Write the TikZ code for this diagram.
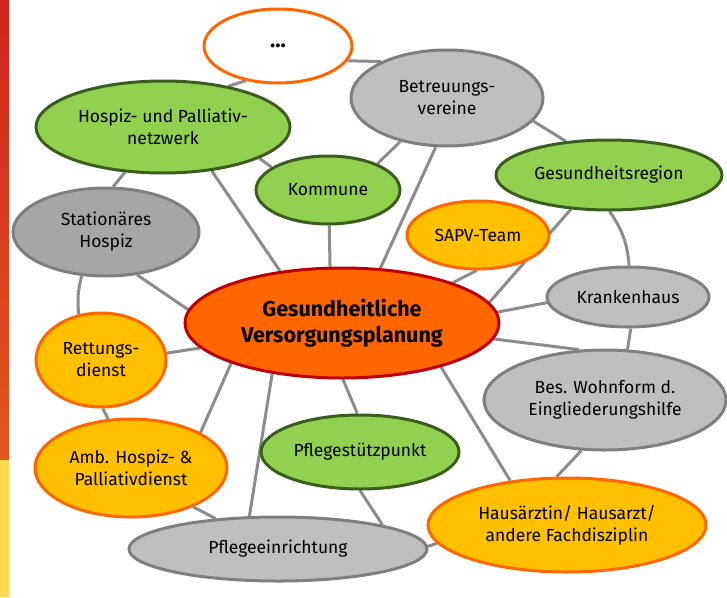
\documentclass[tikz,border=0pt]{standalone}
\usepackage{fontspec}
\setmainfont{Fira Sans}
\usetikzlibrary{shapes.geometric,backgrounds}
\definecolor{cgreen}{HTML}{92D050}
\definecolor{cgreendk}{HTML}{3B5E1F}
\definecolor{clgrey}{HTML}{BFBFBF}
\definecolor{cdgrey}{HTML}{A6A6A6}
\definecolor{cgreyline}{HTML}{7F7F7F}
\definecolor{cyellow}{HTML}{FFC000}
\definecolor{corange}{HTML}{FF6600}
\definecolor{cdred}{HTML}{C00000}
\definecolor{cconn}{HTML}{8C8C8C}
\definecolor{stripA}{HTML}{CE261D}
\definecolor{stripB}{HTML}{E2561F}
\definecolor{stripC}{HTML}{FDD94F}
\tikzset{
  base/.style={ellipse, line width=3pt, inner sep=0pt, align=center,
    font=\fontsize{17.5}{22}\selectfont},
  gnode/.style={base, fill=cgreen, draw=cgreendk},
  lgnode/.style={base, fill=clgrey, draw=cgreyline},
  dgnode/.style={base, fill=cdgrey, draw=cgreyline},
  ynode/.style={base, fill=cyellow, draw=corange},
  wnode/.style={base, fill=white, draw=corange},
  cnode/.style={base, fill=corange, draw=cdred,
    font=\fontsize{21.5}{26}\selectfont\bfseries},
  conn/.style={draw=cconn, line width=3pt},
  sz/.style 2 args={minimum width=#1pt, minimum height=#2pt},
}
\begin{document}
\begin{tikzpicture}[x=1pt,y=-1pt]
\useasboundingbox (0,0) rectangle (727,597);
\shade[top color=stripA, bottom color=stripB] (0,0) rectangle (9,460);
\fill[stripC] (0,460) rectangle (9,597);

\node[wnode, sz={148}{74}, font=\fontsize{22}{26}\selectfont\bfseries] (dots) at (278,46) {...};
\node[lgnode, sz={192}{96}] (betr) at (447,98) {Betreuungs-\\vereine};
\node[gnode, sz={254}{92}] (hpn) at (163,127) {Hospiz- und Palliativ-\\netzwerk};
\node[gnode, sz={144}{68}] (komm) at (328,190) {Kommune};
\node[dgnode, sz={186}{88}] (stat) at (106,232) {Stationäres\\Hospiz};
\node[gnode, sz={226}{70}] (gesr) at (609,175) {Gesundheitsregion};
\node[ynode, sz={142}{68}] (sapv) at (478,235) {SAPV-Team};
\node[lgnode, sz={162}{60}] (kran) at (628,297) {Krankenhaus};
\node[lgnode, sz={242}{100}] (bes) at (605,400) {Bes. Wohnform d.\\Eingliederungshilfe};
\node[cnode, sz={314}{110}] (cent) at (342,323) {Gesundheitliche\\Versorgungsplanung};
\node[ynode, sz={130}{94}] (rett) at (101,360) {Rettungs-\\dienst};
\node[ynode, sz={192}{98}] (amb) at (131,468) {Amb. Hospiz- \&\\Palliativdienst};
\node[gnode, sz={198}{74}] (pfls) at (360,452) {Pflegestützpunkt};
\node[lgnode, sz={298}{64}] (pfle) at (278,549) {Pflegeeinrichtung};
\node[ynode, sz={278}{94}] (haus) at (567,525) {Hausärztin/ Hausarzt/\\andere Fachdisziplin};

\begin{pgfonlayer}{background}
\draw[conn] (dots.227) -- (hpn.32);
\draw[conn] (dots.348) -- (betr.151);
\draw[conn] (betr.223) -- (komm.28);
\draw[conn] (betr.257) -- (cent.55);
\draw[conn] (betr.345) -- (gesr.142);
\draw[conn] (hpn.342) -- (komm.158);
\draw[conn] (hpn.318) -- (cent.140);
\draw[conn] (hpn.230) -- (stat.81);
\draw[conn] (stat.306) -- (cent.175);
\draw[conn] (stat.241) to[bend right=10] (rett.116);
\draw[conn] (rett.6) -- (cent.190);
\draw[conn] (rett.272) -- (amb.115);
\draw[conn] (cent.200) -- (amb.27);
\draw[conn] (cent.216) -- (pfle.131);
\draw[conn] (cent.271) -- (pfls.94);
\draw[conn] (cent.336) -- (haus.142);
\draw[conn] (cent.354) -- (bes.117);
\draw[conn] (cent.4) -- (kran.184);
\draw[conn] (cent.20) -- (sapv.268);
\draw[conn] (cent.8) -- (gesr.222);
\draw[conn] (komm.272) -- (cent.102);
\draw[conn] (kran.275) -- (bes.66);
\draw[conn] (gesr.271) to[bend left=15] (kran.88);
\draw[conn] (bes.245) -- (haus.102);
\draw[conn] (pfls.270) -- (pfle.13);
\draw[conn] (amb.328) -- (pfle.154);
\draw[conn] (pfle.1) -- (haus.188);
\end{pgfonlayer}
\end{tikzpicture}
\end{document}
